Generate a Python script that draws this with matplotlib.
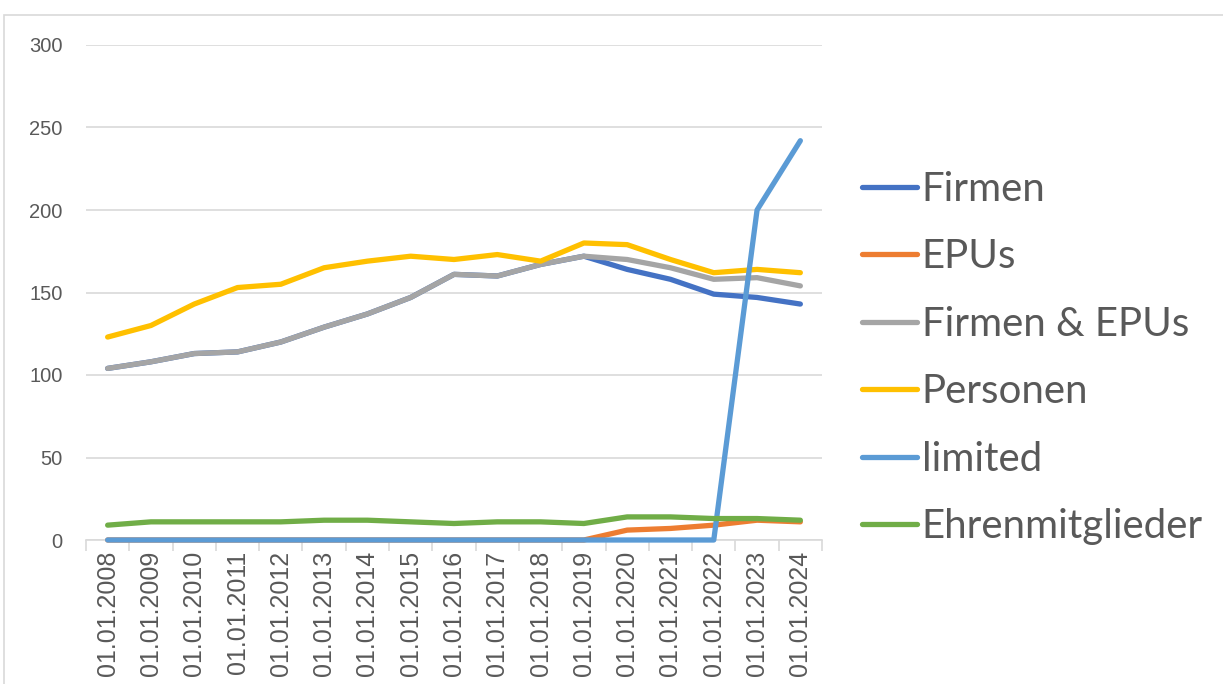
import matplotlib.pyplot as plt
from matplotlib.patches import Rectangle

years = list(range(2008, 2025))
labels = ['01.01.%d' % y for y in years]

firmen = [104, 108, 113, 114, 120, 129, 137, 147, 161, 160, 167, 172, 164, 158, 149, 147, 143]
epus = [0, 0, 0, 0, 0, 0, 0, 0, 0, 0, 0, 0, 6, 7, 9, 12, 11]
firmen_epus = [104, 108, 113, 114, 120, 129, 137, 147, 161, 160, 167, 172, 170, 165, 158, 159, 154]
personen = [123, 130, 143, 153, 155, 165, 169, 172, 170, 173, 169, 180, 179, 170, 162, 164, 162]
limited = [0, 0, 0, 0, 0, 0, 0, 0, 0, 0, 0, 0, 0, 0, 0, 200, 242]
ehren = [9, 11, 11, 11, 11, 12, 12, 11, 10, 11, 11, 10, 14, 14, 13, 13, 12]

series = [
    ('Firmen', firmen, '#4472C4'),
    ('EPUs', epus, '#ED7D31'),
    ('Firmen & EPUs', firmen_epus, '#A5A5A5'),
    ('Personen', personen, '#FFC000'),
    ('limited', limited, '#5B9BD5'),
    ('Ehrenmitglieder', ehren, '#70AD47'),
]

plt.rcParams['font.family'] = ['Liberation Sans', 'DejaVu Sans']

fig = plt.figure(figsize=(12.23, 6.84), dpi=100)
ax = fig.add_axes([86 / 1223, 144 / 684, 736 / 1223, 495 / 684])

# rahmen um das diagramm
fig.patches.append(Rectangle((4 / 1223, -0.01), 1.2, (684 - 15) / 684 + 0.01,
                             transform=fig.transFigure, fill=False,
                             edgecolor='#D9D9D9', lw=1.2))

x = list(range(len(years)))
for name, vals, col in series:
    ax.plot(x, vals, color=col, lw=3.8, label=name, solid_capstyle='round',
            solid_joinstyle='round', clip_on=False, zorder=3)

ax.set_xlim(-0.5, len(years) - 0.5)
ax.set_ylim(0, 300)
ax.set_yticks(range(0, 301, 50))
ax.yaxis.grid(True, color='#D9D9D9', lw=1.2)
ax.set_axisbelow(True)

for s in ['top', 'right', 'left']:
    ax.spines[s].set_visible(False)
ax.spines['bottom'].set_color('#D9D9D9')
ax.spines['bottom'].set_linewidth(1.2)

ax.set_xticks(x)
ax.set_xticklabels(labels, rotation=90)
ax.set_xticks([i - 0.5 for i in range(len(years) + 1)], minor=True)
ax.tick_params(axis='x', which='major', length=0, pad=8, labelsize=18, labelcolor='#595959')
ax.tick_params(axis='x', which='minor', length=8, color='#D9D9D9', width=1.2)
ax.tick_params(axis='y', length=0, pad=17, labelsize=14.5, labelcolor='#595959')

leg = ax.legend(loc='center left', bbox_to_anchor=(862 / 1223, 1 - 358 / 684),
                bbox_transform=fig.transFigure, frameon=False,
                prop={'family': 'Lato', 'size': 29},
                handlelength=1.36, handletextpad=0.12, labelspacing=0.755,
                borderaxespad=0, borderpad=0)
for t in leg.get_texts():
    t.set_color('#595959')
for h in leg.get_lines():
    h.set_linewidth(3.8)

fig.savefig('out.png', dpi=100)
